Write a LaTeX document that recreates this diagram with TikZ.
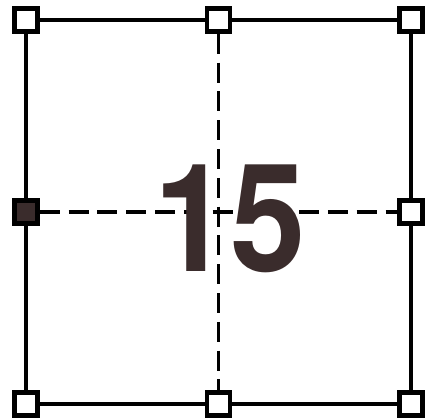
\documentclass[tikz,border=0pt]{standalone}
\usepackage{fontspec}
\setmainfont{TeX Gyre Heros}
\definecolor{inkdark}{HTML}{3A2C2C}
\begin{document}
\begin{tikzpicture}[x=0.025cm, y=-0.025cm,
        handle/.style={rectangle, draw, line width=1.1mm, fill=white, minimum size=0.58cm, inner sep=0pt},
        edge/.style={draw, line width=1.2mm},
        guide/.style={draw, line width=0.9mm, dash pattern=on 0.5cm off 0.22cm},
        bignum/.style={inner sep=0pt, text=inkdark, xscale=0.9, font=\bfseries\fontsize{107}{107}\selectfont}
    ]
        \useasboundingbox (0,0) rectangle (431,418);

        \node[handle] (tl) at (26,20) {};
        \node[handle] (tm) at (218.5,20) {};
        \node[handle] (tr) at (411,20) {};
        \node[handle, fill=inkdark] (ml) at (26,212) {};
        \node[handle] (mr) at (411,212) {};
        \node[handle] (bl) at (26,404) {};
        \node[handle] (bm) at (218.5,404) {};
        \node[handle] (br) at (411,404) {};

        \draw[edge] (tl) -- (tm);
        \draw[edge] (tm) -- (tr);
        \draw[edge] (tr) -- (mr);
        \draw[edge] (mr) -- (br);
        \draw[edge] (br) -- (bm);
        \draw[edge] (bm) -- (bl);
        \draw[edge] (bl) -- (ml);
        \draw[edge] (ml) -- (tl);

        \draw[guide] (ml) -- (mr);
        \draw[guide] (tm) -- (bm);

        \node[bignum] (num) at (230,219) {15};
    \end{tikzpicture}
\end{document}
